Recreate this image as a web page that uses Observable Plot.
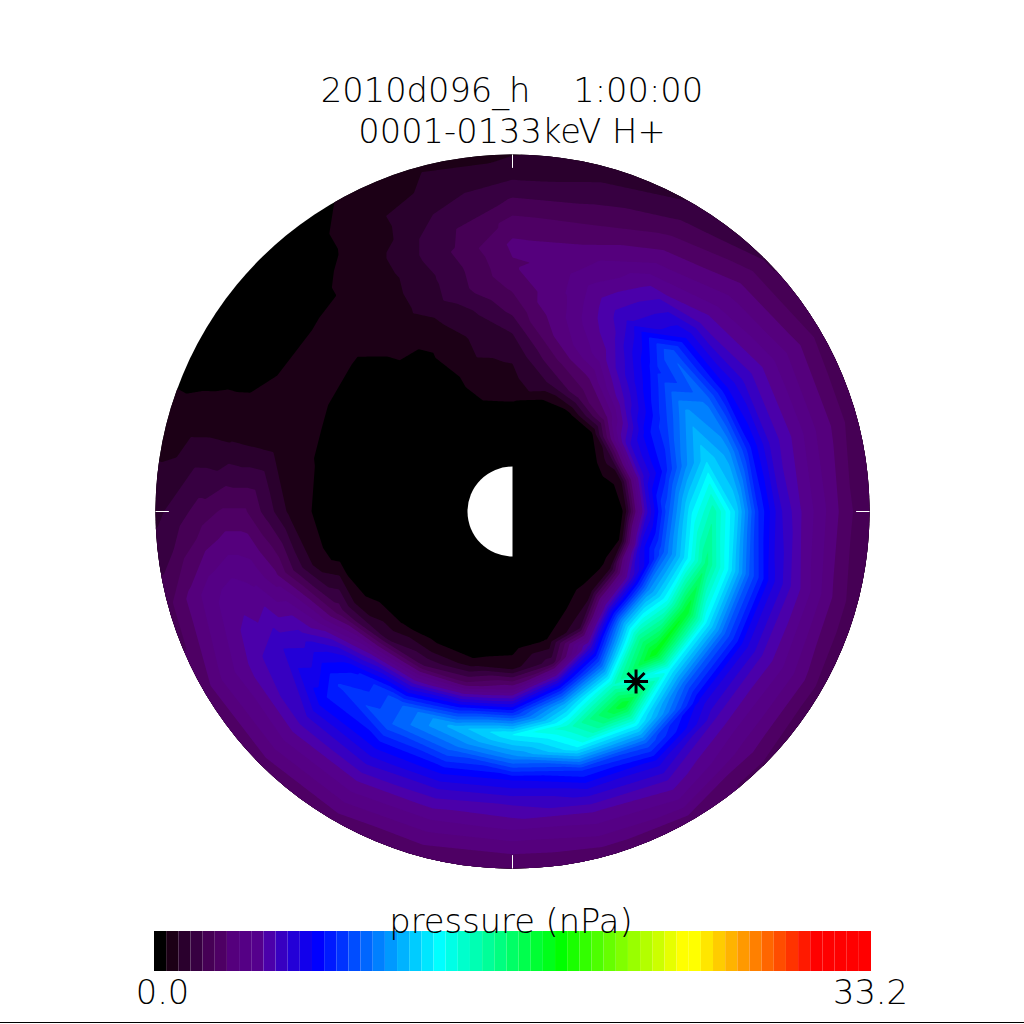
<!DOCTYPE html>
<html><head><meta charset="utf-8">
<script src="https://cdn.jsdelivr.net/npm/d3@7"></script>
<script src="https://cdn.jsdelivr.net/npm/@observablehq/plot@0.6"></script>
<style>
html,body{margin:0;padding:0;background:#fff}
#page{position:relative;width:1024px;height:1022px;border-bottom:1px solid #000;overflow:hidden;font-family:"DejaVu Sans";color:#000}
#head{height:150px;position:relative}
#head div{position:absolute;left:0;width:1024px;text-align:center;white-space:pre;font-size:33.7px;line-height:40px;font-weight:200}
svg{display:block}
</style></head><body>
<div id="page"><div id="head"><div id="t1" style="top:71px"></div><div id="t2" style="top:112px"></div></div><div id="main"></div><div id="bar"></div></div>
<script>
const titleLines = ["2010d096_h    1:00:00", "0001-0133keV H+"];
const barTitle = "pressure (nPa)";
const vMax = 33.2, levels = 59;
// azimuth clockwise from the top of the dial, degrees
const azimuths = [0,15,30,45,60,75,90,105,120,135,150,165,180,195,210,225,240,255,270,285,300,315,330,345];
// radial distance in Earth radii
const radii = [2.5,3,3.5,4,4.5,5,5.5,6,6.5,7,7.5,8];
const coreRadii = [0,1,2];
const guardRadius = 8.6;
// pressure in nPa, one row per azimuth, one column per radius
const pressure = [
[.6,1.0,1.2,1.7,2.4,2.9,3.3,3.5,3.0,2.3,1.6,1.1],
[.3,1.7,2.6,3.5,3.9,4.0,4.0,3.6,3.0,2.4,1.8,1.4],
[.3,2.5,3.5,4.8,5.5,6,5.5,4.8,3.8,3,2.3,1.7],
[.5,3.4,5.5,7,8.2,9.5,7.3,5.5,4.5,3.7,3,2.2],
[1.5,6,7.7,9,10.8,10,7.5,6,5,4.1,3.3,2.5],
[.8,6,8,10.5,12.3,11,8,6,5,4,3.2,2.3],
[.6,6,9.5,12.8,15,12.3,8.5,6.3,5,4,3,2.3],
[.6,7,9.5,12.5,16,13,9.5,7,5.5,4.3,3.2,2.4],
[.8,5.5,10.5,13.5,18,13,9.5,7,5.5,4.5,3.5,2.5],
[1,5.5,11,15.5,18.5,13,9.5,7,5.6,4.5,3.6,2.7],
[.6,1.5,6,10,14.5,18,13.3,9.5,7,5.5,4.4,3],
[0,.6,2,7,11.5,14.5,12.8,8.5,6.5,5,4,2.9],
[0,.3,.9,4,8.3,13,10.5,7.4,5.8,4.8,3.7,2.8],
[0,0,.7,3,7.5,11.5,9.7,7.6,6,4.8,3.8,2.9],
[0,0,.7,2.3,6,9.5,9.5,7.7,6.3,5,4,3],
[0,0,.5,1.6,5,7.7,8.5,7.7,6.2,5,4,3],
[0,0,.2,.8,2.6,4.5,5.8,6.1,5.6,4.8,4,3],
[0,0,0,.4,.8,2,3.5,4.4,4.7,4.3,3.5,2.6],
[0,0,0,0,.56,1,2,2.9,2.9,2.5,2,1.5],
[0,0,0,0,.5,.8,1,1,1,1,.9,.8],
[0,0,0,0,.4,.7,.7,.62,.3,.2,.1,.1],
[0,0,.2,.3,.4,.6,.8,.62,.4,.2,.1,.1],
[0,0,.2,.4,.8,.9,.9,.8,.8,.7,.7,.56],
[.5,.9,1.05,1.1,1.3,1.9,1.9,2.1,2,1.6,1.2,1.1]
];
const peak = {r:4.71, az:144};
const dialTicks = [0,90,180,270];
// colour table: colour band index and its colour
const stopIndex = [0,1,2,3,4,5,6,8,9,11,13,18,23,28,33,38,43,44,49,54,58];
const stopColor = ["#000000","#1c0016","#2a002d","#370041","#460055","#4e0064","#55007d","#55008c","#4b00aa","#2300d7","#0000ff","#0080ff","#00ffff","#00ff80","#00ff00","#80ff00","#ffff00","#ffff00","#ff8000","#ff0000","#ff0000"];

const polar = (r,az)=>({x:r*Math.sin(az*Math.PI/180), y:r*Math.cos(az*Math.PI/180)});
const points = [];
azimuths.forEach((az,i)=>{
  coreRadii.forEach(r=>points.push({...polar(r,az),p:0}));
  radii.forEach((r,j)=>points.push({...polar(r,az),p:pressure[i][j]}));
  points.push({...polar(guardRadius,az),p:pressure[i][radii.length-1]});
});
const step = vMax/levels;
const bands = d3.range(levels).map(i=>i*step);
const colorScale = {type:"linear",domain:stopIndex.map(i=>i*step),range:stopColor,interpolate:"rgb"};
const pxPerRe = 357/8;
const W = 1024, H = 735, cy = 361;
const star8 = {draw(ctx,size){const a=Math.sqrt(size/Math.PI);const d=a*Math.SQRT1_2;
  ctx.moveTo(-a,0);ctx.lineTo(a,0);ctx.moveTo(0,-a);ctx.lineTo(0,a);ctx.moveTo(-d,-d);ctx.lineTo(d,d);ctx.moveTo(-d,d);ctx.lineTo(d,-d);}};
const halfDisc = {draw(ctx,size){const a=Math.sqrt(size/Math.PI);ctx.moveTo(0,-a);ctx.arc(0,0,a,-Math.PI/2,Math.PI/2,true);ctx.closePath();}};

const main = Plot.plot({
  width:W,height:H,margin:0,
  style:{background:"transparent"},
  x:{domain:[-512/pxPerRe,512/pxPerRe],axis:null},
  y:{domain:[-(H-cy)/pxPerRe,cy/pxPerRe],axis:null},
  color:colorScale,
  marks:[
    Plot.contour(points,{x:"x",y:"y",value:"p",fill:"value",interpolate:"barycentric",thresholds:bands,pixelSize:1}),
    Plot.dot([{x:0,y:0}],{x:"x",y:"y",r:45,symbol:halfDisc,fill:"white",stroke:"none"}),
    Plot.dot([polar(peak.r,peak.az)],{x:"x",y:"y",r:12,symbol:star8,stroke:"black",strokeWidth:3,fill:"none"}),
    Plot.link(dialTicks,{x1:d=>polar(8,d).x,y1:d=>polar(8,d).y,x2:d=>polar(7.7,d).x,y2:d=>polar(7.7,d).y,stroke:"white",strokeWidth:1})
  ]
});
const sx = main.scale("x"), sy = main.scale("y");
const ns = "http://www.w3.org/2000/svg";
const defs = document.createElementNS(ns,"defs");
const cp = document.createElementNS(ns,"clipPath"); cp.setAttribute("id","dial");
const circ = document.createElementNS(ns,"circle");
circ.setAttribute("cx",sx.apply(0));circ.setAttribute("cy",sy.apply(0));circ.setAttribute("r",sx.apply(8)-sx.apply(0));
cp.appendChild(circ);defs.appendChild(cp);main.insertBefore(defs,main.firstChild);
main.querySelector('g[aria-label="contour"]').setAttribute("clip-path","url(#dial)");
document.getElementById("main").appendChild(main);

const bar = Plot.plot({
  width:W,height:137,marginLeft:154,marginRight:153,marginTop:46,marginBottom:51,
  style:{background:"transparent",fontFamily:"DejaVu Sans",fontWeight:200},
  x:{domain:[0,vMax],axis:null},
  color:colorScale,
  marks:[
    Plot.rect(bands,{x1:d=>d,x2:d=>d+step,fill:d=>d}),
    Plot.text([barTitle],{frameAnchor:"top",text:d=>d,dy:-22,dx:-2,fontSize:33.7,fill:"black"}),
    Plot.text([0],{x:d=>d,frameAnchor:"bottom",text:()=>"0.0",dx:8,dy:32,fontSize:33.7,fill:"black"}),
    Plot.text([vMax],{x:d=>d,frameAnchor:"bottom",text:d=>d.toFixed(1),dx:-1,dy:32,fontSize:33.7,fill:"black"})
  ]
});
document.getElementById("bar").appendChild(bar);
document.getElementById("t1").textContent = titleLines[0];
document.getElementById("t2").textContent = titleLines[1];
</script></body></html>
